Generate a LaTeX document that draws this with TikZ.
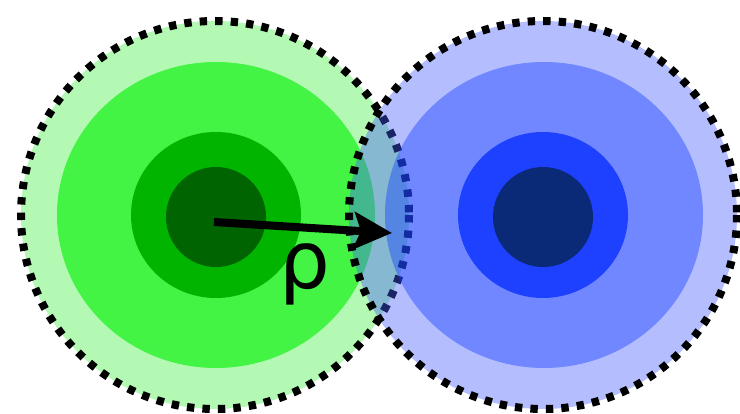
\documentclass[tikz,border=0pt]{standalone}
\usepackage{fontspec}
\newfontfamily\dejavu{DejaVu Sans}
\usetikzlibrary{arrows.meta}
\definecolor{glight}{RGB}{179,248,179}
\definecolor{gmid}{RGB}{68,244,68}
\definecolor{ginner}{RGB}{0,180,0}
\definecolor{gcore}{RGB}{0,100,0}
\definecolor{blight}{RGB}{67,92,255}
\definecolor{bmid}{RGB}{10,55,255}
\definecolor{binner}{RGB}{30,64,255}
\definecolor{bcore}{RGB}{10,42,120}
\tikzset{
  rim/.style={draw=black, line width=8pt, dash pattern=on 7.4pt off 8.1pt},
  overlay fill/.style={fill opacity=0.4},
  vec/.style={line width=8pt, -{Stealth[length=38pt,width=37pt,inset=7pt]}},
  lbl/.style={font=\dejavu\fontsize{80}{80}\selectfont, inner sep=0pt}
}
\begin{document}
\begin{tikzpicture}[x=1pt,y=-1pt]
\useasboundingbox (0,0) rectangle (740,414);
% green particle
\fill[glight] (215,215) circle[radius=194];
\fill[gmid] (216,215) ellipse[x radius=159, y radius=153];
\fill[ginner] (216,215) ellipse[x radius=85, y radius=83];
\fill[gcore] (216,217) circle[radius=50];
\draw[rim] (215,215) circle[radius=194];
% blue particle
\fill[blight, overlay fill] (543,215) circle[radius=194];
\fill[bmid, overlay fill] (544,215) ellipse[x radius=159, y radius=153];
\fill[binner] (543,215) ellipse[x radius=85, y radius=83];
\fill[bcore] (543,217) circle[radius=50];
\draw[rim] (543,215) circle[radius=194];
% vector
\coordinate (gc) at (214,222);
\coordinate (tip) at (392,233);
\draw[vec] (gc) -- (tip);
\node[lbl] (rho) at (305,274) {ρ};
\end{tikzpicture}
\end{document}
